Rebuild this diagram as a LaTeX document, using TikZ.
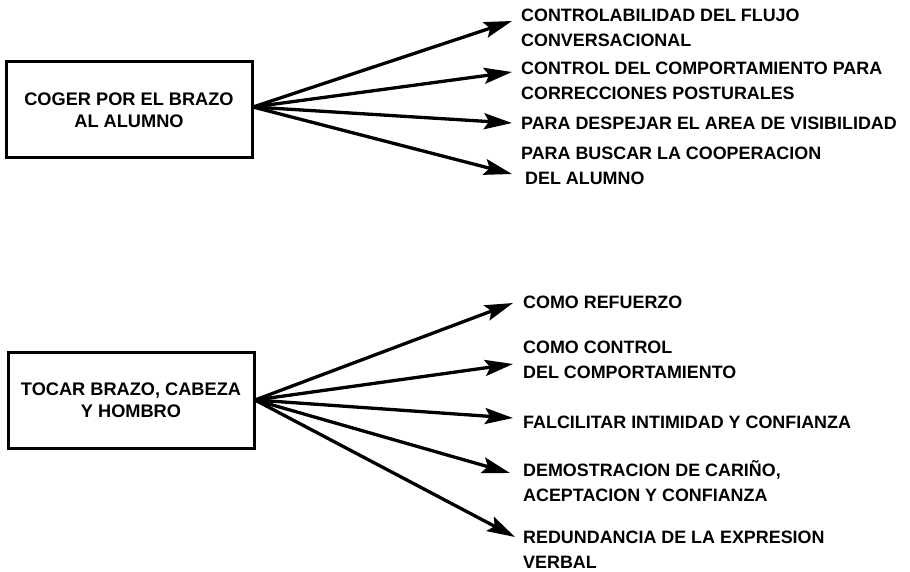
\documentclass[tikz,border=0pt]{standalone}
\usepackage{fontspec}
\setmainfont{Liberation Sans}
\usetikzlibrary{arrows.meta}
\begin{document}
\begin{tikzpicture}[x=1pt,y=-1pt,
  box/.style={draw,line width=3pt,minimum width=246pt,minimum height=96pt,align=center,font=\bfseries\fontsize{18.2}{22}\selectfont,inner sep=0pt},
  lab/.style={anchor=west,align=left,font=\bfseries\fontsize{17.9}{25}\selectfont,inner sep=0pt},
  arr/.style={line width=3.3pt,-{Stealth[length=28pt,width=16pt,inset=5pt]}}]
\useasboundingbox (0,0) rectangle (910,572);
\node[box] (b1) at (129,110) {COGER POR EL BRAZO\\AL ALUMNO};
\node[box] (b2) at (131,400) {TOCAR BRAZO, CABEZA\\Y HOMBRO};
\coordinate (o1) at (253,107);
\coordinate (o2) at (255,400);
% labels, group 1
\node[lab] (l11) at (521,28) {CONTROLABILIDAD DEL FLUJO\\CONVERSACIONAL};
\node[lab] (l12) at (521,81) {CONTROL DEL COMPORTAMIENTO PARA\\CORRECCIONES POSTURALES};
\node[lab] (l13) at (521,123) {PARA DESPEJAR EL AREA DE VISIBILIDAD};
\node[lab] (l14) at (521,166) {PARA BUSCAR LA COOPERACION\\\hspace*{4pt}DEL ALUMNO};
% labels, group 2
\node[lab] (l21) at (523,302) {COMO REFUERZO};
\node[lab] (l22) at (523,360) {COMO CONTROL\\DEL COMPORTAMIENTO};
\node[lab] (l23) at (523,422) {FALCILITAR INTIMIDAD Y CONFIANZA};
\node[lab] (l24) at (523,481) {DEMOSTRACION DE CARIÑO,\\ACEPTACION Y CONFIANZA};
\node[lab] (l25) at (523,550) {REDUNDANCIA DE LA EXPRESION\\VERBAL};
% arrow tips
\coordinate (t11) at (512,21);
\coordinate (t12) at (512,72);
\coordinate (t13) at (512,123);
\coordinate (t14) at (512,174);
\coordinate (t21) at (513,303);
\coordinate (t22) at (513,364);
\coordinate (t23) at (513,418);
\coordinate (t24) at (510,473);
\coordinate (t25) at (515,537);
\foreach \t in {t11,t12,t13,t14} \draw[arr] (o1) -- (\t);
\foreach \t in {t21,t22,t23,t24,t25} \draw[arr] (o2) -- (\t);
\end{tikzpicture}
\end{document}
